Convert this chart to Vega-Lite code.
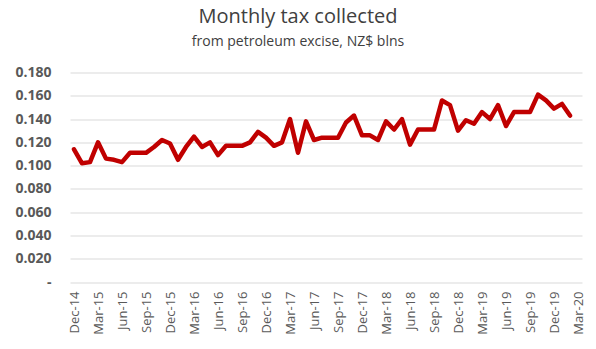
{
  "$schema": "https://vega.github.io/schema/vega-lite/v6.json",
  "width": 512,
  "height": 209.5,
  "autosize": {"type": "none"},
  "padding": {"left": 70, "top": 72.5, "right": 14, "bottom": 67},
  "background": "white",
  "title": {
    "text": "Monthly tax collected",
    "subtitle": "from petroleum excise, NZ$ blns",
    "anchor": "middle",
    "dx": -28,
    "offset": 17,
    "font": "Open Sans",
    "fontSize": 20,
    "fontWeight": "normal",
    "color": "#404040",
    "subtitleFont": "Open Sans",
    "subtitleFontSize": 14,
    "subtitleColor": "#404040",
    "subtitlePadding": 8
  },
  "data": {
    "values": [
      {"month": "Dec-14", "tax": 0.114},
      {"month": "Jan-15", "tax": 0.102},
      {"month": "Feb-15", "tax": 0.103},
      {"month": "Mar-15", "tax": 0.120},
      {"month": "Apr-15", "tax": 0.106},
      {"month": "May-15", "tax": 0.105},
      {"month": "Jun-15", "tax": 0.103},
      {"month": "Jul-15", "tax": 0.111},
      {"month": "Aug-15", "tax": 0.111},
      {"month": "Sep-15", "tax": 0.111},
      {"month": "Oct-15", "tax": 0.116},
      {"month": "Nov-15", "tax": 0.122},
      {"month": "Dec-15", "tax": 0.119},
      {"month": "Jan-16", "tax": 0.105},
      {"month": "Feb-16", "tax": 0.116},
      {"month": "Mar-16", "tax": 0.125},
      {"month": "Apr-16", "tax": 0.116},
      {"month": "May-16", "tax": 0.120},
      {"month": "Jun-16", "tax": 0.109},
      {"month": "Jul-16", "tax": 0.117},
      {"month": "Aug-16", "tax": 0.117},
      {"month": "Sep-16", "tax": 0.117},
      {"month": "Oct-16", "tax": 0.120},
      {"month": "Nov-16", "tax": 0.129},
      {"month": "Dec-16", "tax": 0.124},
      {"month": "Jan-17", "tax": 0.117},
      {"month": "Feb-17", "tax": 0.120},
      {"month": "Mar-17", "tax": 0.140},
      {"month": "Apr-17", "tax": 0.111},
      {"month": "May-17", "tax": 0.138},
      {"month": "Jun-17", "tax": 0.122},
      {"month": "Jul-17", "tax": 0.124},
      {"month": "Aug-17", "tax": 0.124},
      {"month": "Sep-17", "tax": 0.124},
      {"month": "Oct-17", "tax": 0.137},
      {"month": "Nov-17", "tax": 0.143},
      {"month": "Dec-17", "tax": 0.126},
      {"month": "Jan-18", "tax": 0.126},
      {"month": "Feb-18", "tax": 0.122},
      {"month": "Mar-18", "tax": 0.138},
      {"month": "Apr-18", "tax": 0.131},
      {"month": "May-18", "tax": 0.140},
      {"month": "Jun-18", "tax": 0.118},
      {"month": "Jul-18", "tax": 0.131},
      {"month": "Aug-18", "tax": 0.131},
      {"month": "Sep-18", "tax": 0.131},
      {"month": "Oct-18", "tax": 0.156},
      {"month": "Nov-18", "tax": 0.152},
      {"month": "Dec-18", "tax": 0.130},
      {"month": "Jan-19", "tax": 0.139},
      {"month": "Feb-19", "tax": 0.136},
      {"month": "Mar-19", "tax": 0.146},
      {"month": "Apr-19", "tax": 0.140},
      {"month": "May-19", "tax": 0.152},
      {"month": "Jun-19", "tax": 0.134},
      {"month": "Jul-19", "tax": 0.146},
      {"month": "Aug-19", "tax": 0.146},
      {"month": "Sep-19", "tax": 0.146},
      {"month": "Oct-19", "tax": 0.161},
      {"month": "Nov-19", "tax": 0.156},
      {"month": "Dec-19", "tax": 0.149},
      {"month": "Jan-20", "tax": 0.153},
      {"month": "Feb-20", "tax": 0.143}
    ]
  },
  "mark": {"type": "line", "color": "#c00000", "strokeWidth": 4.5, "strokeJoin": "round", "strokeCap": "round"},
  "encoding": {
    "x": {
      "field": "month",
      "type": "ordinal",
      "sort": null,
      "scale": {
        "type": "point",
        "padding": 0.5,
        "domain": ["Dec-14","Jan-15","Feb-15","Mar-15","Apr-15","May-15","Jun-15","Jul-15","Aug-15","Sep-15","Oct-15","Nov-15","Dec-15","Jan-16","Feb-16","Mar-16","Apr-16","May-16","Jun-16","Jul-16","Aug-16","Sep-16","Oct-16","Nov-16","Dec-16","Jan-17","Feb-17","Mar-17","Apr-17","May-17","Jun-17","Jul-17","Aug-17","Sep-17","Oct-17","Nov-17","Dec-17","Jan-18","Feb-18","Mar-18","Apr-18","May-18","Jun-18","Jul-18","Aug-18","Sep-18","Oct-18","Nov-18","Dec-18","Jan-19","Feb-19","Mar-19","Apr-19","May-19","Jun-19","Jul-19","Aug-19","Sep-19","Oct-19","Nov-19","Dec-19","Jan-20","Feb-20","Mar-20"]
      },
      "axis": {
        "title": null,
        "values": ["Dec-14","Mar-15","Jun-15","Sep-15","Dec-15","Mar-16","Jun-16","Sep-16","Dec-16","Mar-17","Jun-17","Sep-17","Dec-17","Mar-18","Jun-18","Sep-18","Dec-18","Mar-19","Jun-19","Sep-19","Dec-19","Mar-20"],
        "labelAngle": -90,
        "labelAlign": "right",
        "labelBaseline": "middle",
        "labelPadding": 9,
        "labelFont": "Open Sans",
        "labelFontSize": 13,
        "labelColor": "#595959",
        "ticks": false,
        "domain": false,
        "grid": false
      }
    },
    "y": {
      "field": "tax",
      "type": "quantitative",
      "scale": {"domain": [0, 0.18], "nice": false, "zero": true},
      "axis": {
        "title": null,
        "values": [0, 0.02, 0.04, 0.06, 0.08, 0.1, 0.12, 0.14, 0.16, 0.18],
        "labelExpr": "datum.value == 0 ? '-\u00a0\u00a0\u00a0' : format(datum.value, '.3f')",
        "labelFont": "Open Sans",
        "labelFontSize": 14,
        "labelFontWeight": "bold",
        "labelColor": "#595959",
        "labelPadding": 19,
        "ticks": false,
        "domain": false,
        "grid": true,
        "gridColor": "#d9d9d9",
        "gridWidth": 1
      }
    },
    "order": {"value": null}
  },
  "config": {"view": {"stroke": null}}
}
